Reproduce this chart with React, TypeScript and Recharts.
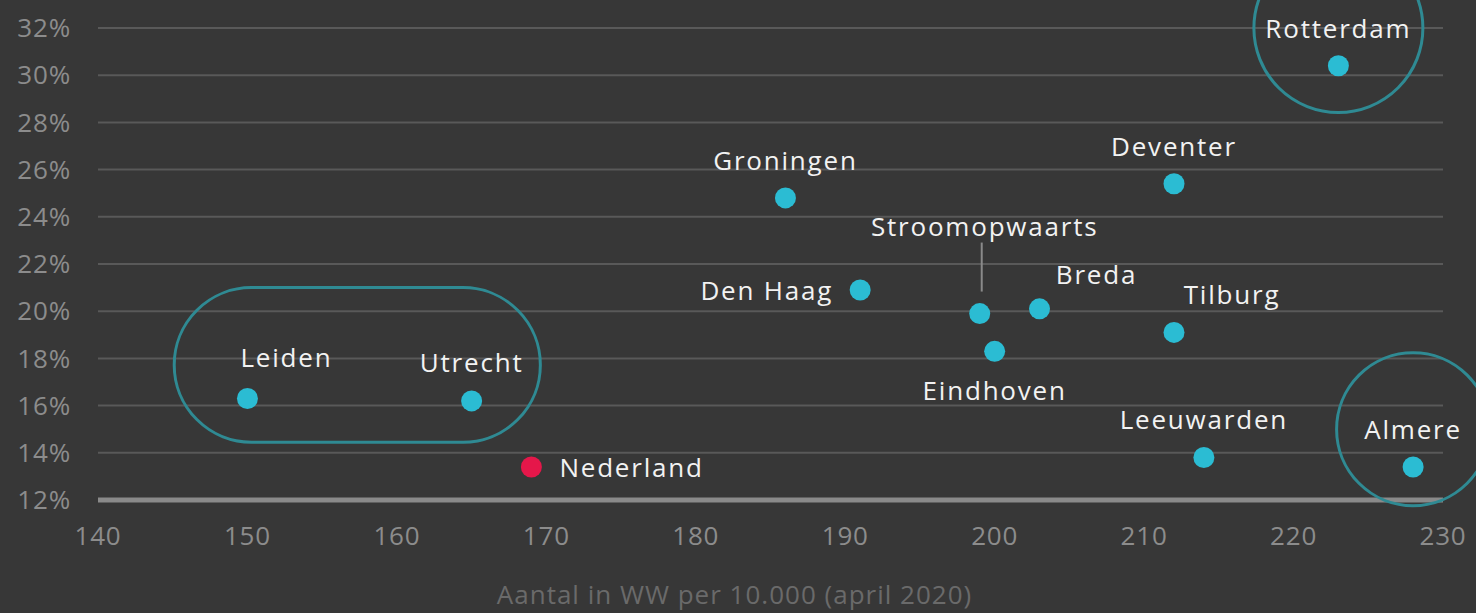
import { ScatterChart, Scatter, XAxis, YAxis, CartesianGrid, ReferenceDot, ReferenceArea } from 'recharts';

// gemeenten: aantal in WW per 10.000 (x) en aandeel (y, %)
const cities = ['Rotterdam', 'Deventer', 'Groningen', 'Den Haag', 'Stroomopwaarts', 'Breda', 'Tilburg', 'Eindhoven', 'Leiden', 'Utrecht', 'Leeuwarden', 'Almere'];
const wwPer10k = [223, 212, 186, 191, 199, 203, 212, 200, 150, 165, 214, 228];
const share = [30.4, 25.4, 24.8, 20.9, 19.9, 20.1, 19.1, 18.3, 16.3, 16.2, 13.8, 13.4];

const nlName = 'Nederland';
const nlWw = 169;
const nlShare = 13.4;

const xTicks = [140, 150, 160, 170, 180, 190, 200, 210, 220, 230];
const yTicks = [12, 14, 16, 18, 20, 22, 24, 26, 28, 30, 32];

const cityData = cities.map((name, i) => ({ name, x: wwPer10k[i], y: share[i] }));
const nlData = [{ name: nlName, x: nlWw, y: nlShare }];

// label placement per point: dx, dy, text-anchor
const labelPos: Record<string, [number, number, string]> = {
	Rotterdam: [0, -38, 'middle'],
	Deventer: [0, -38, 'middle'],
	Groningen: [0, -38, 'middle'],
	'Den Haag': [-27, 0, 'end'],
	Stroomopwaarts: [5, -88, 'middle'],
	Breda: [57, -35, 'middle'],
	Tilburg: [58, -38, 'middle'],
	Eindhoven: [0, 39, 'middle'],
	Leiden: [39, -42, 'middle'],
	Utrecht: [0, -39, 'middle'],
	Leeuwarden: [0, -39, 'middle'],
	Almere: [0, -38, 'middle'],
	Nederland: [28, 0, 'start'],
};

const FONT = '"Open Sans", sans-serif';
const ring = '#2f8a93';

const makeDot = (fill: string) => (props: any) => {
	const { cx, cy, payload } = props;
	const [dx, dy, anchor] = labelPos[payload.name] || [0, -38, 'middle'];
	return (
		<g>
			<circle cx={cx} cy={cy} r={10.5} fill={fill} />
			{payload.name === 'Stroomopwaarts' && (
				<line x1={cx + 2} x2={cx + 2} y1={cy - 71} y2={cy - 22} stroke="#8a8a8a" strokeWidth={2} />
			)}
			<text
				x={cx + dx}
				y={cy + dy}
				textAnchor={anchor as any}
				dominantBaseline="central"
				fill="#f2f2f2"
				fontSize={26}
				fontFamily={FONT}
				letterSpacing={1.8}
			>
				{payload.name}
			</text>
		</g>
	);
};

const pill = (props: any) => {
	const { x, y, width, height } = props;
	return <rect x={x} y={y} width={width} height={height} rx={height / 2} ry={height / 2} fill="none" stroke={ring} strokeWidth={3} />;
};

export default function App() {
	return (
		<div style={{ position: 'absolute', left: 0, top: 0, width: 1476, height: 613, background: '#373737', overflow: 'hidden' }}>
			<ScatterChart width={1476} height={613} margin={{ top: 28, right: 33, bottom: 0, left: 0 }}>
				<CartesianGrid vertical={false} stroke="#595959" strokeWidth={2} />
				<XAxis
					type="number"
					dataKey="x"
					domain={[140, 230]}
					ticks={xTicks}
					height={113}
					tickLine={false}
					tickSize={0}
					tickMargin={27}
					axisLine={{ stroke: '#8a8a8a', strokeWidth: 5 }}
					tick={{ fill: '#8c8c8c', fontSize: 26, fontFamily: FONT, letterSpacing: 0.8 }}
					label={{ value: 'Aantal in WW per 10.000 (april 2020)', position: 'insideBottom', offset: 9, dx: -36, fill: '#6a6a6a', fontSize: 26, fontFamily: FONT, letterSpacing: 1 }}
				/>
				<YAxis
					type="number"
					dataKey="y"
					domain={[12, 32]}
					ticks={yTicks}
					width={98}
					axisLine={false}
					tickLine={false}
					tickSize={0}
					tickMargin={27}
					tickFormatter={(v: number) => `${v}%`}
					tick={{ fill: '#8c8c8c', fontSize: 26, fontFamily: FONT, letterSpacing: 0.8 }}
				/>
				<ReferenceArea x1={145.1} x2={169.6} y1={14.45} y2={21.0} shape={pill} />
				<ReferenceDot x={223} y={32} r={84.5} fill="none" stroke={ring} strokeWidth={3} />
				<ReferenceDot x={228} y={15.0} r={76.5} fill="none" stroke={ring} strokeWidth={3} />
				<Scatter data={cityData} shape={makeDot('#2bbcd3')} isAnimationActive={false} />
				<Scatter data={nlData} shape={makeDot('#e5174a')} isAnimationActive={false} />
			</ScatterChart>
		</div>
	);
}
